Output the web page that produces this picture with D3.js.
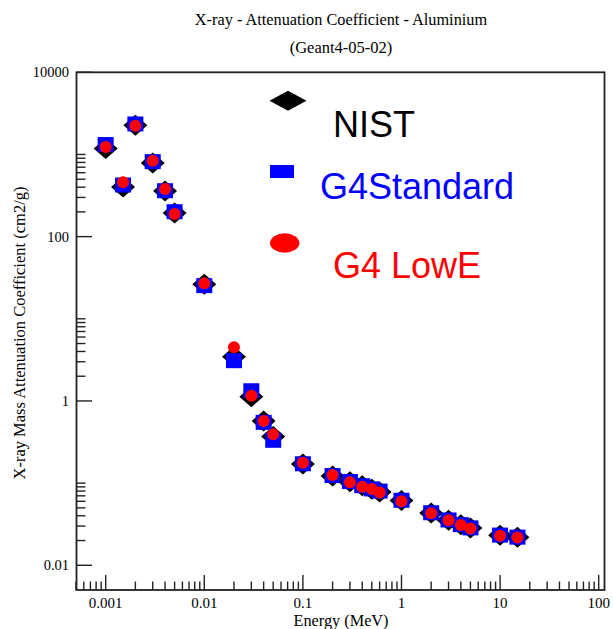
<!DOCTYPE html>
<html><head><meta charset="utf-8">
<script src="https://cdn.jsdelivr.net/npm/d3@7"></script>
<style>body{margin:0;background:#fff}</style>
</head><body>
<script>
// ---- data ----
const energies = [0.001,0.0015,0.002,0.003,0.004,0.005,0.01,0.02,0.03,0.04,0.05,0.1,0.2,0.3,0.4,0.5,0.6,1,2,3,4,5,10,15];
const nist     = [1185,402,2263,788,360,193.4,26.23,3.441,1.128,0.5685,0.3681,0.1704,0.1223,0.1042,0.09276,0.08445,0.07802,0.06146,0.04324,0.03541,0.03106,0.02836,0.02318,0.02195];
const g4std    = [1320,425,2350,817,362,201,25.3,3.09,1.33,0.549,0.332,0.172,0.1235,0.1045,0.0930,0.0850,0.0800,0.0618,0.0436,0.0356,0.0312,0.0285,0.0233,0.0220];
const g4lowe   = [1230,458,2240,840,380,188,27.0,4.5,1.16,0.570,0.393,0.177,0.1256,0.1023,0.0900,0.0845,0.0770,0.0600,0.0430,0.0352,0.0310,0.0280,0.0228,0.0218];
const xTickLabels = ["0.001","0.01","0.1","1","10","100"];
const yTickLabels = ["10000","100","1","0.01"];
const seriesNames = ["NIST","G4Standard","G4 LowE"];
const seriesColors = ["#000000","#0000ff","#ff0000"];
const titleText = "X-ray - Attenuation Coefficient - Aluminium";
const subtitleText = "(Geant4-05-02)";
const xTitle = "Energy (MeV)";
const yTitle = "X-ray Mass Attenuation Coefficient (cm2/g)";

// ---- layout ----
const W = 613, H = 629;
const L = 76.5, R = 604.5, T = 72.3, B = 590;
const svg = d3.select("body").append("svg").attr("width", W).attr("height", H);

const x = d3.scaleLog().domain([0.0005, 100]).range([76, 598.7]);
const y = d3.scaleLog().domain([0.005, 10000]).range([B, T]);

const serif = "'Liberation Serif','Times New Roman',serif";
const sans = "'Liberation Sans',Arial,Helvetica,sans-serif";

// title
svg.append("text").attr("x", 341).attr("y", 25).attr("text-anchor","middle")
  .attr("font-family", serif).attr("font-size", 16.3).text(titleText);
svg.append("text").attr("x", 341).attr("y", 53).attr("text-anchor","middle")
  .attr("font-family", serif).attr("font-size", 16.5).text(subtitleText);

// frame
svg.append("rect").attr("x", L).attr("y", T).attr("width", R - L).attr("height", B - T)
  .attr("fill","none").attr("stroke","#222").attr("stroke-width",1.8);

// x ticks (inside)
const xt = [];
for (let e = -4; e <= 1; e++) for (let k = 1; k <= 9; k++) {
  const v = k * Math.pow(10, e);
  if (v >= 0.0005 && v <= 100) xt.push(v);
}
xt.push(100);
svg.append("g").selectAll("line").data(xt).join("line")
  .attr("x1", d => x(d)).attr("x2", d => x(d))
  .attr("y1", B).attr("y2", d => {
    const m = Math.abs(Math.log10(d) - Math.round(Math.log10(d))) < 1e-9;
    return m ? B - 15 : B - 8.5;
  })
  .attr("stroke","#222").attr("stroke-width",1.4);
svg.append("g").selectAll("text").data(xTickLabels).join("text")
  .attr("x", d => x(+d)).attr("y", 608).attr("text-anchor","middle")
  .attr("font-family", serif).attr("font-size", 15).text(d => d);

// y ticks (inside): major at labels, minor in alternate decades
const yMinor = [];
[100, 1, 0.01].forEach(base => { for (let k = 2; k <= 10; k++) yMinor.push(base * k); });
svg.append("g").selectAll("line").data(yMinor).join("line")
  .attr("x1", L).attr("x2", L + 9).attr("y1", d => y(d)).attr("y2", d => y(d))
  .attr("stroke","#222").attr("stroke-width",1.4);
svg.append("g").selectAll("line").data(yTickLabels).join("line")
  .attr("x1", L).attr("x2", L + 15.5).attr("y1", d => y(+d)).attr("y2", d => y(+d))
  .attr("stroke","#222").attr("stroke-width",1.4);
svg.append("g").selectAll("text").data(yTickLabels).join("text")
  .attr("x", 69).attr("y", d => y(+d)).attr("dy","0.35em").attr("text-anchor","end")
  .attr("font-family", serif).attr("font-size", 14.5).text(d => d);

// axis titles
svg.append("text").attr("x", 341).attr("y", 626).attr("text-anchor","middle")
  .attr("font-family", serif).attr("font-size", 16.3).text(xTitle);
svg.append("text").attr("transform","translate(25,333) rotate(-90)").attr("text-anchor","middle")
  .attr("font-family", serif).attr("font-size", 16.5).text(yTitle);

// data markers
const pts = energies.map((e, i) => ({e, n: nist[i], s: g4std[i], l: g4lowe[i]}));
svg.append("g").selectAll("path").data(pts).join("path")
  .attr("d", d => {
    const cx = x(d.e), cy = y(d.n), hw = 12, hh = 10.5;
    return `M${cx-hw},${cy}L${cx},${cy-hh}L${cx+hw},${cy}L${cx},${cy+hh}Z`;
  }).attr("fill", seriesColors[0]);
svg.append("g").selectAll("rect").data(pts).join("rect")
  .attr("x", d => x(d.e) - 8).attr("y", d => y(d.s) - 7.5)
  .attr("width", 16).attr("height", 15).attr("fill", seriesColors[1]);
svg.append("g").selectAll("circle").data(pts).join("circle")
  .attr("cx", d => x(d.e)).attr("cy", d => y(d.l)).attr("r", 6)
  .attr("fill", seriesColors[2]);

// legend
const lg = svg.append("g");
lg.append("path").attr("d", "M269.5,100.7L288,90.7L306.5,100.7L288,110.7Z").attr("fill", seriesColors[0]);
lg.append("rect").attr("x", 270).attr("y", 165).attr("width", 24).attr("height", 13).attr("fill", seriesColors[1]);
lg.append("ellipse").attr("cx", 284.7).attr("cy", 243).attr("rx", 14.7).attr("ry", 9.7).attr("fill", seriesColors[2]);
const legPos = [[333,137],[320,199],[333,278]];
lg.selectAll("text").data(seriesNames).join("text")
  .attr("x", (d,i) => legPos[i][0]).attr("y", (d,i) => legPos[i][1])
  .attr("font-family", sans).attr("font-size", 36)
  .attr("fill", (d,i) => seriesColors[i]).text(d => d);
</script>
</body></html>
